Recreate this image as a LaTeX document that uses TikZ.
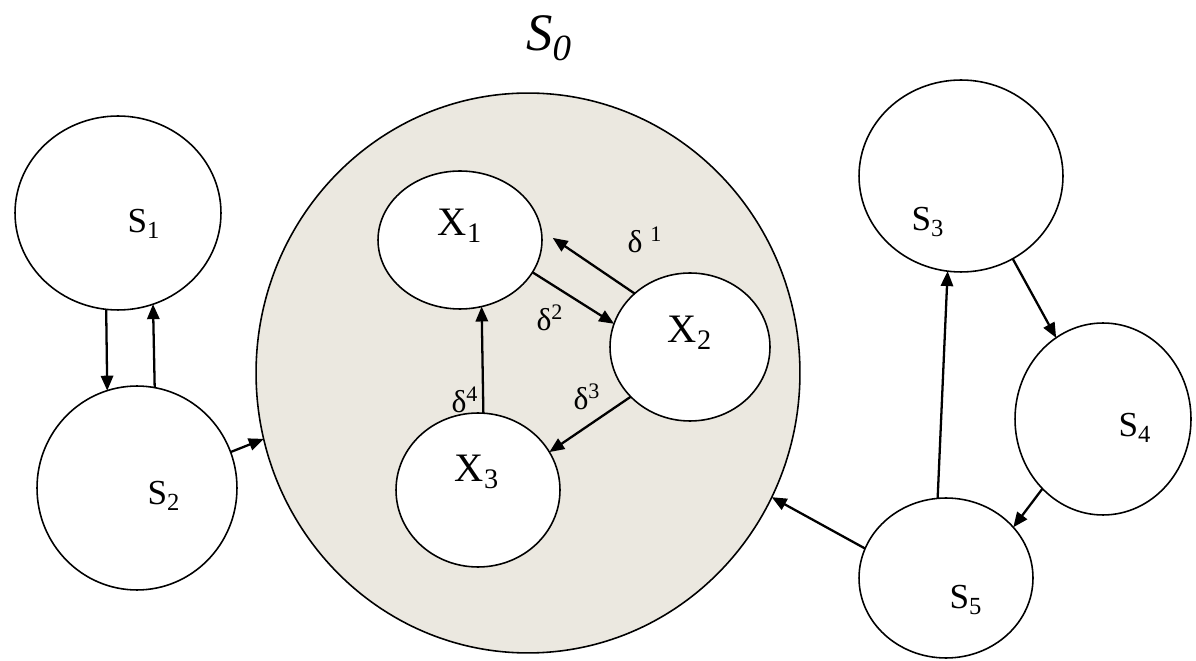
\documentclass[tikz,border=0pt]{standalone}
\usepackage{fontspec}
\setmainfont{Liberation Serif}
\usetikzlibrary{shapes.geometric,arrows.meta}
\definecolor{sofill}{RGB}{235,232,224}
\tikzset{
  st/.style={ellipse, draw, line width=0.9pt, fill=white, inner sep=0pt, outer sep=0pt},
  arr/.style={-{Triangle[length=8.5pt,width=7pt]}, line width=1.3pt},
  slab/.style={inner sep=0pt, font=\fontsize{20}{22}\selectfont},
  xlab/.style={inner sep=0pt, font=\fontsize{23}{25}\selectfont},
  dlab/.style={inner sep=0pt, font=\fontsize{18}{20}\selectfont},
}
\begin{document}
\begin{tikzpicture}[x=0.02cm, y=-0.02cm]
\useasboundingbox (0,0) rectangle (1196,661);
% big circle
\node[st, fill=sofill, minimum width=10.88cm, minimum height=11.2cm] (S0) at (528,373) {};
\node[inner sep=0pt, font=\fontsize{30}{32}\selectfont\itshape] (S0lab) at (549,38) {S\textsubscript{0}};
% outer states
\node[st, minimum width=4.12cm, minimum height=3.88cm] (S1) at (118,213) {};
\node[st, minimum width=4.0cm, minimum height=4.08cm] (S2) at (137,488) {};
\node[st, minimum width=4.08cm, minimum height=3.84cm] (S3) at (961,176) {};
\node[st, minimum width=3.52cm, minimum height=3.84cm] (S4) at (1103,419) {};
\node[st, minimum width=3.48cm, minimum height=3.2cm] (S5) at (946,578) {};
% inner states
\node[st, minimum width=3.28cm, minimum height=2.76cm] (X1) at (460,240) {};
\node[st, minimum width=3.2cm, minimum height=2.96cm] (X2) at (690,347) {};
\node[st, minimum width=3.28cm, minimum height=3.08cm] (X3) at (478,490) {};
% labels
\node[slab] (S1lab) at (144,224) {S\textsubscript{1}};
\node[slab] (S2lab) at (164,496) {S\textsubscript{2}};
\node[slab] (S3lab) at (928,222) {S\textsubscript{3}};
\node[slab] (S4lab) at (1135,428) {S\textsubscript{4}};
\node[slab] (S5lab) at (966,600) {S\textsubscript{5}};
\node[xlab] (X1lab) at (460,226) {X\textsubscript{1}};
\node[xlab] (X2lab) at (690,333) {X\textsubscript{2}};
\node[xlab] (X3lab) at (477,472) {X\textsubscript{3}};
\node[dlab] (d1) at (645,240) {δ \textsuperscript{1}};
\node[dlab] (d2) at (550,318) {δ\textsuperscript{2}};
\node[dlab] (d3) at (587,397) {δ\textsuperscript{3}};
\node[dlab] (d4) at (465,400) {δ\textsuperscript{4}};
% connectors
\draw[arr] (S1.-97) -- (S2.107);
\draw[arr] (S2.80) -- (S1.-69);
\draw[arr] (S2.21) -- (S0.-166);
\draw[arr] (S5.160) -- (S0.-27);
\draw[arr] (S5.96) -- (S3.-98);
\draw[arr] (S3.-58) -- (S4.120);
\draw[arr] (S4.-131) -- (S5.37);
\draw[arr, shorten >=0.28cm] (X2.136) -- (X1.7);
\draw[arr] (X1.-24) -- (X2.163);
\draw[arr] (X2.-140) -- (X3.28);
\draw[arr] (X3.86) -- (X1.-72);
\end{tikzpicture}
\end{document}
